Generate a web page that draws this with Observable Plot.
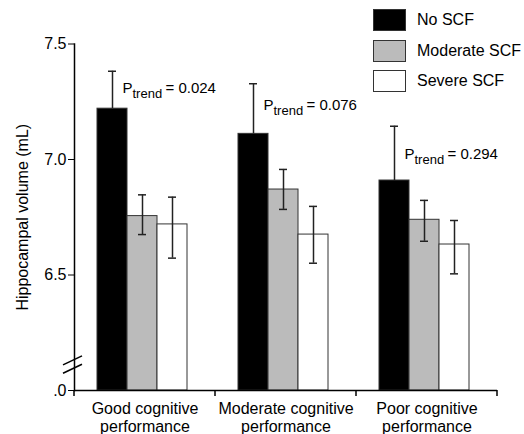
<!DOCTYPE html>
<html><head><meta charset="utf-8">
<script src="https://cdn.jsdelivr.net/npm/d3@7"></script>
<script src="https://cdn.jsdelivr.net/npm/@observablehq/plot@0.6"></script>
<style>
body{margin:0;background:#fff;font-family:"Liberation Sans",Arial,sans-serif;}
#wrap{position:relative;width:524px;height:434px;}
#legend{position:absolute;left:373px;top:9px;font-size:16px;color:#000;}
.row{display:flex;align-items:center;height:22px;margin-bottom:8.5px;}
.box{width:31px;height:20px;border:1px solid #333;margin-right:11px;}
</style></head>
<body>
<div id="wrap"><div id="legend"></div></div>
<script>
const categories = ["Good cognitive\nperformance", "Moderate cognitive\nperformance", "Poor cognitive\nperformance"];
const series = ["No SCF", "Moderate SCF", "Severe SCF"];
const seriesColors = ["#000000", "#bbbbbb", "#ffffff"];
const noSCF = [7.22, 7.111, 6.909];
const noSCFHi = [7.382, 7.328, 7.144];
const moderateSCF = [6.755, 6.870, 6.739];
const moderateSCFLo = [6.675, 6.784, 6.646];
const moderateSCFHi = [6.847, 6.957, 6.823];
const severeSCF = [6.719, 6.675, 6.632];
const severeSCFLo = [6.573, 6.551, 6.505];
const severeSCFHi = [6.837, 6.797, 6.736];
const pTrend = ["0.024", "0.076", "0.294"];
const pLabelY = [7.29, 7.215, 7.004];
const yTicks = [6.0, 6.5, 7.0, 7.5];
const yFloor = 6.0;
const yTop = 7.5;
const breakValues = [6.128, 6.092];

const rows = [];
categories.forEach((c, i) => {
  // only the upper whisker of the black bar shows (the lower half is hidden inside the bar)
  rows.push({category: c, series: series[0], value: noSCF[i], lo: noSCF[i], hi: noSCFHi[i]});
  rows.push({category: c, series: series[1], value: moderateSCF[i], lo: moderateSCFLo[i], hi: moderateSCFHi[i]});
  rows.push({category: c, series: series[2], value: severeSCF[i], lo: severeSCFLo[i], hi: severeSCFHi[i]});
});
const annos = categories.map((c, i) => ({category: c, y: pLabelY[i], p: "= " + pTrend[i]}));

const errStroke = "#222";
const plot = Plot.plot({
  width: 524, height: 434,
  marginLeft: 74, marginRight: 27, marginTop: 43.5, marginBottom: 44,
  style: {fontFamily: "'Liberation Sans', Arial, sans-serif", fontSize: "16px", color: "#000", background: "#fff"},
  fx: {domain: categories, padding: 0},
  x: {domain: series, paddingInner: 0, paddingOuter: 0.85, align: 0.46, axis: null},
  y: {domain: [yFloor, yTop]},
  color: {domain: series, range: seriesColors},
  marks: [
    Plot.barY(rows, {fx: "category", x: "series", y1: () => yFloor, y2: "value", fill: "series", stroke: "#333", strokeWidth: 1}),
    Plot.ruleX(rows, {fx: "category", x: "series", y1: "lo", y2: "hi", stroke: errStroke, strokeWidth: 1.5}),
    Plot.tickY(rows, {fx: "category", x: "series", y: "hi", insetLeft: 11, insetRight: 11, stroke: errStroke, strokeWidth: 1.5}),
    Plot.tickY(rows.filter(d => d.series !== series[0]), {fx: "category", x: "series", y: "lo", insetLeft: 11, insetRight: 11, stroke: errStroke, strokeWidth: 1.5}),
    Plot.ruleY([yFloor], {stroke: "#000", strokeWidth: 1.5}),
    Plot.frame({anchor: "left", facetAnchor: "left", stroke: "#000", strokeWidth: 1.5}),
    Plot.text(annos, {fx: "category", x: () => series[0], y: "y", text: () => "P", textAnchor: "start", lineAnchor: "bottom", dx: 10, fontSize: 15, fill: "#000"}),
    Plot.text(annos, {fx: "category", x: () => series[0], y: "y", text: () => "trend", textAnchor: "start", lineAnchor: "bottom", dx: 20, dy: 5, fontSize: 13, fill: "#000"}),
    Plot.text(annos, {fx: "category", x: () => series[0], y: "y", text: "p", textAnchor: "start", lineAnchor: "bottom", dx: 53, fontSize: 15, fill: "#000"}),
    Plot.axisY({ticks: yTicks, tickFormat: d => d === yFloor ? ".0" : d.toFixed(1), tickSize: 6, tickPadding: 2, fontSize: 16,
      label: "Hippocampal volume (mL)", labelAnchor: "center", labelOffset: 58, labelArrow: "none"}),
    Plot.axisFx({anchor: "bottom", tickSize: 0, tickPadding: 11, fontSize: 16, lineHeight: 1.12, label: null})
  ]
});

// axis decorations from the library's scales: band-boundary ticks and axis break
const fxs = plot.scale("fx"), ys = plot.scale("y");
const bounds = categories.map(c => fxs.apply(c));
bounds.push(fxs.apply(categories[categories.length - 1]) + fxs.bandwidth);
const y0 = ys.apply(yFloor);
const svg = d3.select(plot);
const g = svg.append("g").attr("stroke", "#000").attr("stroke-width", 1.5);
g.selectAll("line.t").data(bounds).join("line").attr("class", "t")
  .attr("x1", d => d).attr("x2", d => d).attr("y1", y0).attr("y2", y0 + 6);
const ax = bounds[0];
g.selectAll("line.b").data(breakValues).join("line").attr("class", "b")
  .attr("x1", ax - 11).attr("x2", ax + 8)
  .attr("y1", d => ys.apply(d) + 4.5).attr("y2", d => ys.apply(d) - 4.5);

document.getElementById("wrap").prepend(plot);

const legend = d3.select("#legend");
series.forEach((s, i) => {
  const r = legend.append("div").attr("class", "row");
  r.append("div").attr("class", "box").style("background", seriesColors[i]);
  r.append("span").text(s);
});
</script>
</body></html>
